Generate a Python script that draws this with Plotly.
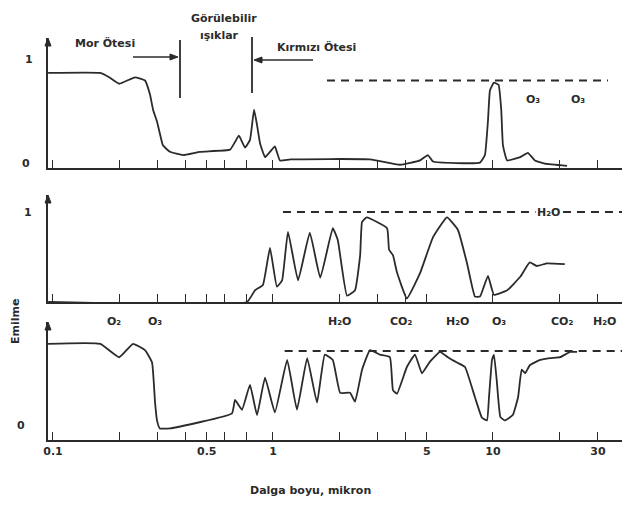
import numpy as np
import plotly.graph_objects as go

# ---------------- data (wavelength in micron, absorption fraction) ----------------
# Panel 1 (upper atmosphere)
p1_wl = [0.095, 0.164, 0.18, 0.20, 0.236, 0.262, 0.276, 0.285, 0.297, 0.306, 0.316, 0.34, 0.39,
         0.466, 0.638, 0.672, 0.70, 0.746, 0.786, 0.82, 0.846, 0.873, 0.92, 0.969, 1.02, 1.076,
         1.2, 2.76, 3.78, 4.66, 5.06, 5.34, 8.73, 9.19, 9.49, 9.69, 10.1, 10.6, 10.9, 11.1, 11.6,
         13.3, 14.4, 15.5, 17.2, 21.7]
p1_abs = [0.88, 0.88, 0.84, 0.78, 0.84, 0.81, 0.68, 0.54, 0.43, 0.32, 0.21, 0.15, 0.12,
          0.15, 0.17, 0.24, 0.30, 0.19, 0.26, 0.54, 0.40, 0.23, 0.10, 0.15, 0.20, 0.07,
          0.08, 0.08, 0.03, 0.07, 0.12, 0.06, 0.05, 0.12, 0.44, 0.72, 0.79, 0.77, 0.54, 0.21, 0.07,
          0.10, 0.14, 0.07, 0.04, 0.02]
p1_ref_wl = [1.76, 33.3]
p1_ref = [0.81, 0.81]

# Panel 2 (water vapour)
p2_wl = [0.095, 0.762, 0.828, 0.90, 0.969, 1.042, 1.10, 1.17, 1.30, 1.47, 1.64, 1.87, 1.97,
         2.17, 2.36, 2.49, 2.54, 2.67, 3.30, 3.37, 3.51, 3.66, 4.06, 4.66, 5.34, 6.18, 6.93,
         7.62, 8.28, 8.73, 9.49, 10.1, 11.6, 13.3, 14.7, 15.8, 17.6, 21.2]
p2_abs = [0.0, 0.0, 0.13, 0.19, 0.60, 0.17, 0.24, 0.78, 0.24, 0.77, 0.27, 0.82, 0.69,
          0.07, 0.13, 0.52, 0.89, 0.94, 0.82, 0.58, 0.52, 0.33, 0.04, 0.32, 0.72, 0.94, 0.80,
          0.43, 0.06, 0.06, 0.29, 0.08, 0.13, 0.28, 0.44, 0.40, 0.43, 0.42]
p2_ref_wl = [1.11, 40.0]
p2_ref = [1.0, 1.0]

# Panel 3 (ground level, total)
p3_wl = [0.095, 0.164, 0.20, 0.231, 0.262, 0.282, 0.291, 0.297, 0.306, 0.34, 0.651, 0.672,
         0.723, 0.786, 0.846, 0.92, 1.02, 1.16, 1.285, 1.43, 1.585, 1.72, 1.87, 2.02, 2.24,
         2.36, 2.54, 2.76, 3.06, 3.40, 3.51, 3.66, 4.06, 4.42, 4.75, 5.17, 5.74, 6.24, 6.86,
         7.46, 8.28, 8.91, 9.39, 9.59, 9.90, 10.1, 10.4, 10.8, 11.3, 12.3, 13.0, 13.5, 14.0,
         14.7, 16.4, 18.2, 20.2, 22.4, 24.1]
p3_abs = [1.08, 1.08, 0.93, 1.08, 1.01, 0.87, 0.42, 0.22, 0.13, 0.13, 0.30, 0.45,
          0.34, 0.62, 0.28, 0.70, 0.31, 0.90, 0.34, 0.92, 0.42, 0.96, 0.90, 0.53, 0.53,
          0.43, 0.79, 1.01, 0.96, 0.93, 0.56, 0.52, 0.82, 0.96, 0.75, 0.88, 0.99, 0.93, 0.87,
          0.82, 0.48, 0.25, 0.22, 0.48, 0.90, 0.96, 0.67, 0.26, 0.22, 0.28, 0.48, 0.79, 0.75,
          0.84, 0.90, 0.92, 0.93, 0.99, 0.99]
p3_ref_wl = [1.13, 40.0]
p3_ref = [1.0, 1.0]

label_ticks = [0.1, 0.5, 1, 5, 10, 30]
label_text = ["0.1", "0.5", "1", "5", "10", "30"]
minor_ticks = [0.2, 0.3, 0.4, 0.6, 0.76, 2, 3, 4, 20]

gas_labels = ["O₂", "O₃", "H₂O", "CO₂", "H₂O", "O₃", "CO₂", "H₂O"]
gas_wl = [0.19, 0.29, 2.0, 3.8, 6.9, 10.6, 20.6, 32.0]

# ---------------- figure ----------------
INK = "#2b2b2b"
FONT = "DejaVu Sans, Arial, sans-serif"
W, H = 627, 505
ML, MR, MT, MB = 48, 5, 38, 65
PW, PH = W - ML - MR, H - MT - MB


def px(x):
    return (x - ML) / PW


def py(y):
    return (H - MB - y) / PH


fig = go.Figure()
for wl, ab, xa, ya in [(p1_wl, p1_abs, "x", "y"), (p2_wl, p2_abs, "x2", "y2"), (p3_wl, p3_abs, "x3", "y3")]:
    fig.add_trace(go.Scatter(x=wl, y=ab, xaxis=xa, yaxis=ya, mode="lines",
                             line=dict(color=INK, width=1.8, shape="spline", smoothing=0.35),
                             hoverinfo="skip", showlegend=False))
for wl, ab, xa, ya in [(p1_ref_wl, p1_ref, "x", "y"), (p2_ref_wl, p2_ref, "x2", "y2"), (p3_ref_wl, p3_ref, "x3", "y3")]:
    fig.add_trace(go.Scatter(x=wl, y=ab, xaxis=xa, yaxis=ya, mode="lines",
                             line=dict(color=INK, width=1.8, dash="8px,6px"),
                             hoverinfo="skip", showlegend=False))

xrange = [-1.0227, 1.5864]
xcommon = dict(type="log", range=xrange, showline=True, linecolor=INK, linewidth=2,
               ticks="inside", ticklen=8, tickwidth=1.4, tickcolor=INK,
               tickmode="array", tickvals=label_ticks, ticktext=label_text,
               minor=dict(tickmode="array", tickvals=minor_ticks, ticks="inside", ticklen=8,
                          tickwidth=1.4, tickcolor=INK, showgrid=False),
               showgrid=False, zeroline=False)
ycommon = dict(showline=True, linecolor=INK, linewidth=2, ticks="", showticklabels=False,
               showgrid=False, zeroline=False)

fig.update_layout(
    width=W, height=H,
    margin=dict(l=ML, r=MR, t=MT, b=MB),
    paper_bgcolor="white", plot_bgcolor="white",
    font=dict(family=FONT, size=11, color=INK, weight="bold"),
    xaxis=dict(**xcommon, anchor="y", showticklabels=False),
    xaxis2=dict(**xcommon, anchor="y2", showticklabels=False, matches="x"),
    xaxis3=dict(**xcommon, anchor="y3", showticklabels=True, matches="x",
                tickfont=dict(family=FONT, size=11, color=INK, weight="bold")),
    yaxis=dict(**ycommon, domain=[py(168), 1.0], range=[0, 130 / 108], anchor="x"),
    yaxis2=dict(**ycommon, domain=[py(302), py(195)], range=[0, 107 / 90], anchor="x2"),
    yaxis3=dict(**ycommon, domain=[0, py(322)], range=[0, 118 / 89], anchor="x3"),
)

ann = []
f11 = dict(family=FONT, size=11, color=INK, weight="bold")


def text(t, x, y, font=f11, **kw):
    ann.append(dict(text=t, x=px(x), y=py(y), xref="paper", yref="paper", showarrow=False,
                    font=font, xanchor="center", yanchor="middle", **kw))


# y-axis value labels
text("1", 29, 60)
text("0", 26, 163)
text("1", 28, 212)
text("0", 21, 425)
# axis titles
text("Dalga boyu, mikron", 310, 490)
text("Emilme", 15, 322, textangle=-90)
# region labels
text("Mor Ötesi", 105, 43)
text("Görülebilir", 224, 18)
text("ışıklar", 219, 35)
text("Kırmızı Ötesi", 316, 47)
text("O₃", 533, 100)
text("O₃", 578, 100)
text("H₂O", 548, 213, bgcolor="white")
for g, w in zip(gas_labels, gas_wl):
    ann.append(dict(text=g, x=np.log10(w), y=py(321), xref="x3", yref="paper", showarrow=False,
                    font=f11, xanchor="center", yanchor="middle"))
fig.update_layout(annotations=ann)


def seg(x0, y0, x1, y1, w=1.8):
    fig.add_shape(type="line", xref="paper", yref="paper", x0=px(x0), x1=px(x1),
                  y0=py(y0), y1=py(y1), line=dict(color=INK, width=w))


def tri(pts):
    path = "M " + " L ".join(f"{px(a):.5f},{py(b):.5f}" for a, b in pts) + " Z"
    fig.add_shape(type="path", xref="paper", yref="paper", path=path,
                  fillcolor=INK, line=dict(color=INK, width=1))


# arrowheads on top of the y axes
for top in [38, 195, 322]:
    tri([(45, top + 8), (48, top), (51, top + 8)])
# bracket lines for the visible band
seg(180, 40, 180, 98)
seg(252, 37, 252, 93)
# region arrows
seg(133, 57, 172, 57, 1.6)
tri([(170, 54), (178, 57), (170, 60)])
seg(260, 60, 313, 60, 1.3)
tri([(262, 57), (254, 60), (262, 63)])

fig.write_html("out.html")
